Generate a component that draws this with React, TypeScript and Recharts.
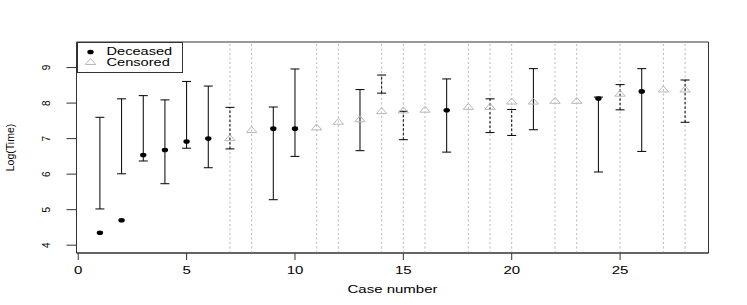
import { ComposedChart, ErrorBar, Legend, ReferenceArea, ReferenceLine, Scatter, XAxis, YAxis } from "recharts"

const caseNo = [1, 2, 3, 4, 5, 6, 7, 8, 9, 10, 11, 12, 13, 14, 15, 16, 17, 18, 19, 20, 21, 22, 23, 24, 25, 26, 27, 28]
const logTime = [4.35, 4.7, 6.54, 6.68, 6.92, 7.0, 7.0, 7.23, 7.28, 7.28, 7.3, 7.46, 7.53, 7.76, 7.78, 7.8, 7.8, 7.88, 7.88, 8.03, 8.03, 8.05, 8.05, 8.13, 8.25, 8.33, 8.37, 8.37]
const status = ["D", "D", "D", "D", "D", "D", "C", "C", "D", "D", "C", "C", "C", "C", "C", "C", "D", "C", "C", "C", "C", "C", "C", "D", "C", "D", "C", "C"]
const lowerLimit = [5.02, 6.01, 6.37, 5.73, 6.73, 6.18, 6.71, null, 5.28, 6.5, null, null, 6.66, 8.28, 6.97, null, 6.62, null, 7.17, 7.09, 7.25, null, null, 6.06, 7.81, 6.64, null, 7.46]
const upperLimit = [7.6, 8.12, 8.21, 8.09, 8.61, 8.48, 7.88, null, 7.89, 8.96, null, null, 8.38, 8.79, 7.77, null, 8.68, null, 8.12, 7.82, 8.97, null, null, 8.17, 8.52, 8.97, null, 8.65]
const dashedCases = [7, 14, 15, 19, 20, 25, 28]
const gridCases = [7, 8, 11, 12, 14, 15, 16, 18, 19, 20, 22, 23, 25, 27, 28]
const xTicks = [0, 5, 10, 15, 20, 25]
const yTicks = [4, 5, 6, 7, 8, 9]
const xDomain = [-0.08, 29.08]
const yDomain = [3.78, 9.72]

const points = caseNo.map((c, i) => ({ case: c, logTime: logTime[i], status: status[i] }))
const deceased = points.filter((p) => p.status === "D")
const censored = points.filter((p) => p.status === "C")

const intervals = caseNo
  .map((c, i) => ({ case: c, lo: lowerLimit[i], hi: upperLimit[i] }))
  .filter((d) => d.lo != null && d.hi != null)
  .map((d) => ({ ...d, span: [0, (d.hi as number) - (d.lo as number)] }))
const solidIntervals = intervals.filter((d) => !dashedCases.includes(d.case))
const dashedIntervals = intervals.filter((d) => dashedCases.includes(d.case))

const FONT = "'Liberation Sans', Arial, Helvetica, sans-serif"
const STRETCH = 1.5

const Dot = (props: any) => <ellipse cx={props.cx} cy={props.cy} rx={3.2} ry={2.3} fill="#000" />

const Triangle = (props: any) => {
  const { cx, cy } = props
  return (
    <polygon
      points={`${cx},${cy - 4} ${cx - 5.2},${cy + 2} ${cx + 5.2},${cy + 2}`}
      fill="none"
      stroke="#b8b8b8"
      strokeWidth={1}
    />
  )
}

const Cap = (props: any) => (
  <line x1={props.cx - 4.5} x2={props.cx + 4.5} y1={props.cy} y2={props.cy} stroke="#000" strokeWidth={1} />
)

const Nothing = () => <g />

function XTick({ x, y, payload }: any) {
  return (
    <text
      transform={`translate(${x},${y + 8}) scale(${STRETCH},1)`}
      textAnchor="middle"
      dominantBaseline="central"
      fontSize={10}
      fontFamily={FONT}
      fill="#000"
    >
      {payload.value}
    </text>
  )
}

function YTick({ x, y, payload }: any) {
  const cx = x - 18
  return (
    <text
      x={cx}
      y={y}
      transform={`rotate(-90, ${cx}, ${y})`}
      textAnchor="middle"
      dominantBaseline="central"
      fontSize={10}
      fontFamily={FONT}
      fill="#000"
    >
      {payload.value}
    </text>
  )
}

function XTitle({ viewBox }: any) {
  const cx = viewBox.x + viewBox.width / 2
  return (
    <text
      transform={`translate(${cx},${viewBox.y + 36}) scale(${STRETCH},1)`}
      textAnchor="middle"
      dominantBaseline="central"
      fontSize={10}
      fontFamily={FONT}
      fill="#000"
    >
      Case number
    </text>
  )
}

function YTitle({ viewBox }: any) {
  const cy = viewBox.y + viewBox.height / 2
  return (
    <text
      x={10}
      y={cy}
      transform={`rotate(-90, 10, ${cy})`}
      textAnchor="middle"
      dominantBaseline="central"
      fontSize={10.5}
      fontFamily={FONT}
      fill="#000"
    >
      Log(Time)
    </text>
  )
}

function LegendBox() {
  return (
    <svg width={106} height={31} style={{ display: "block" }}>
      <rect x={0.5} y={0.5} width={105} height={30} fill="#fff" stroke="#333" />
      <ellipse cx={13.5} cy={10} rx={3.2} ry={2.3} fill="#000" />
      <polygon points="13.5,16.5 8.3,22.5 18.7,22.5" fill="none" stroke="#b8b8b8" />
      <text transform={`translate(29.5,13) scale(1.46,1)`} fontSize={10} fontFamily={FONT} fill="#000">
        Deceased
      </text>
      <text transform={`translate(29.5,24) scale(1.46,1)`} fontSize={10} fontFamily={FONT} fill="#000">
        Censored
      </text>
    </svg>
  )
}

export default function App() {
  return (
    <div style={{ width: 747, height: 305, background: "#fff" }}>
      <style>{`body{margin:0}`}</style>
      <ComposedChart width={747} height={305} margin={{ top: 42, right: 38.5, bottom: 0, left: 0 }}>
        <XAxis
          dataKey="case"
          type="number"
          domain={xDomain}
          ticks={xTicks}
          tick={<XTick />}
          tickSize={7}
          height={52}
          stroke="#333"
          allowDataOverflow
          label={{ value: "Case number", content: XTitle }}
        />
        <YAxis
          type="number"
          domain={yDomain}
          ticks={yTicks}
          tick={<YTick />}
          tickSize={10}
          width={76.5}
          stroke="#333"
          allowDataOverflow
          label={{ value: "Log(Time)", content: YTitle }}
        />
        <ReferenceArea x1={xDomain[0]} x2={xDomain[1]} y1={yDomain[0]} y2={yDomain[1]} fill="none" stroke="#333" strokeWidth={1} fillOpacity={0} />
        {gridCases.map((c) => (
          <ReferenceLine key={c} x={c} stroke="#b8b8b8" strokeDasharray="2 2.5" />
        ))}
        <Scatter name="solid" data={solidIntervals} dataKey="lo" shape={Nothing} isAnimationActive={false} legendType="none">
          <ErrorBar dataKey="span" direction="y" width={0} stroke="#000" strokeWidth={1} isAnimationActive={false} />
        </Scatter>
        <Scatter name="dashed" data={dashedIntervals} dataKey="lo" shape={Nothing} isAnimationActive={false} legendType="none">
          <ErrorBar dataKey="span" direction="y" width={0} stroke="#000" strokeWidth={1} strokeDasharray="2.5 2" isAnimationActive={false} />
        </Scatter>
        <Scatter name="lowCap" data={intervals} dataKey="lo" shape={Cap} isAnimationActive={false} legendType="none" />
        <Scatter name="highCap" data={intervals} dataKey="hi" shape={Cap} isAnimationActive={false} legendType="none" />
        <Scatter name="Censored" data={censored} dataKey="logTime" shape={Triangle} isAnimationActive={false} />
        <Scatter name="Deceased" data={deceased} dataKey="logTime" shape={Dot} isAnimationActive={false} />
        <Legend
          content={LegendBox}
          layout="horizontal"
          verticalAlign="middle"
          wrapperStyle={{ left: 76.5, top: 41.5, width: 106 }}
        />
      </ComposedChart>
    </div>
  )
}
